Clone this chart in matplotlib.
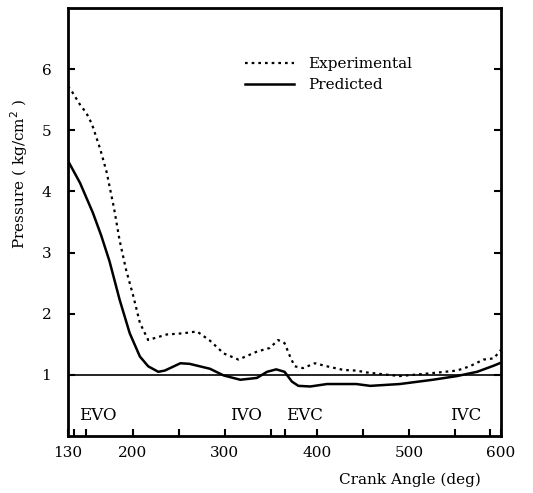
import matplotlib
matplotlib.use("Agg")
import matplotlib.pyplot as plt
import numpy as np

plt.rcParams['font.family'] = ['DejaVu Serif']

# Experimental (dotted) curve
exp_deg = [130, 134, 143, 150, 156, 165, 172, 180, 186, 193, 201, 208, 217, 237, 255, 270,
           284, 299, 315, 335, 349, 358, 365, 371, 376, 385, 398, 411, 429, 443, 454,
           490, 526, 552, 566, 581, 592, 600]
exp_p = [5.72, 5.64, 5.42, 5.28, 5.10, 4.69, 4.31, 3.72, 3.20, 2.72, 2.28, 1.85, 1.57, 1.66, 1.68, 1.71,
         1.56, 1.35, 1.25, 1.38, 1.44, 1.57, 1.52, 1.30, 1.14, 1.11, 1.19, 1.14, 1.08, 1.07, 1.04,
         0.98, 1.03, 1.07, 1.14, 1.25, 1.27, 1.41]

# Predicted (solid) curve
pred_deg = [130, 143, 157, 166, 175, 186, 197, 208, 217, 228, 235, 252, 262, 284, 299,
            317, 335, 346, 356, 365, 373, 380, 393, 411, 443, 458, 490, 526, 552, 574, 592, 600]
pred_p = [4.50, 4.14, 3.65, 3.28, 2.86, 2.23, 1.68, 1.30, 1.14, 1.05, 1.07, 1.19, 1.18, 1.10, 0.99,
          0.92, 0.95, 1.05, 1.09, 1.05, 0.89, 0.82, 0.81, 0.85, 0.85, 0.82, 0.85, 0.92, 0.98, 1.05, 1.15, 1.20]

ref_level = 1.0
events = ["EVO", "IVO", "EVC", "IVC"]
event_x = [162, 323, 387, 562]
event_ticks = [137, 365, 588]

x_major = [130, 200, 300, 400, 500, 600]
x_minor = [150, 250, 350, 450, 550]
y_ticks = [1, 2, 3, 4, 5, 6]

fig = plt.figure(figsize=(5.33, 4.93), dpi=100)
ax = fig.add_axes([0.1276, 0.1156, 0.8125, 0.8682])

ax.plot(exp_deg, exp_p, color='black', lw=1.6, linestyle=(0, (1.2, 1.8)), label='Experimental')
ax.plot(pred_deg, pred_p, color='black', lw=1.8, label='Predicted')
ax.axhline(ref_level, color='black', lw=1.2)

ax.set_xlim(130, 600)
ax.set_ylim(0, 7)

ax.set_xticks(x_major)
ax.set_xticks(x_minor + event_ticks, minor=True)
ax.set_yticks(y_ticks)
ax.tick_params(axis='both', which='both', direction='in', width=1.5)
ax.tick_params(axis='both', which='major', length=5, labelsize=11)
ax.tick_params(axis='x', which='minor', length=5)
ax.tick_params(axis='y', right=True, pad=12)
ax.tick_params(axis='x', pad=7)

for s in ax.spines.values():
    s.set_linewidth(2)

for name, xv in zip(events, event_x):
    ax.text(xv, 0.33, name, ha='center', va='center', fontsize=12)

ax.set_ylabel('Pressure ( kg/cm$^2$ )', fontsize=11)
ax.yaxis.set_label_coords(-0.088, 0.612)
ax.set_xlabel('Crank Angle (deg)', fontsize=11)
ax.xaxis.set_label_coords(0.79, -0.085)

ax.legend(loc='upper left', bbox_to_anchor=(0.409, 0.885), frameon=False, fontsize=11,
          handlelength=3.2, handletextpad=0.9, labelspacing=0.45, borderpad=0, borderaxespad=0)

fig.savefig('out.png', dpi=100)
